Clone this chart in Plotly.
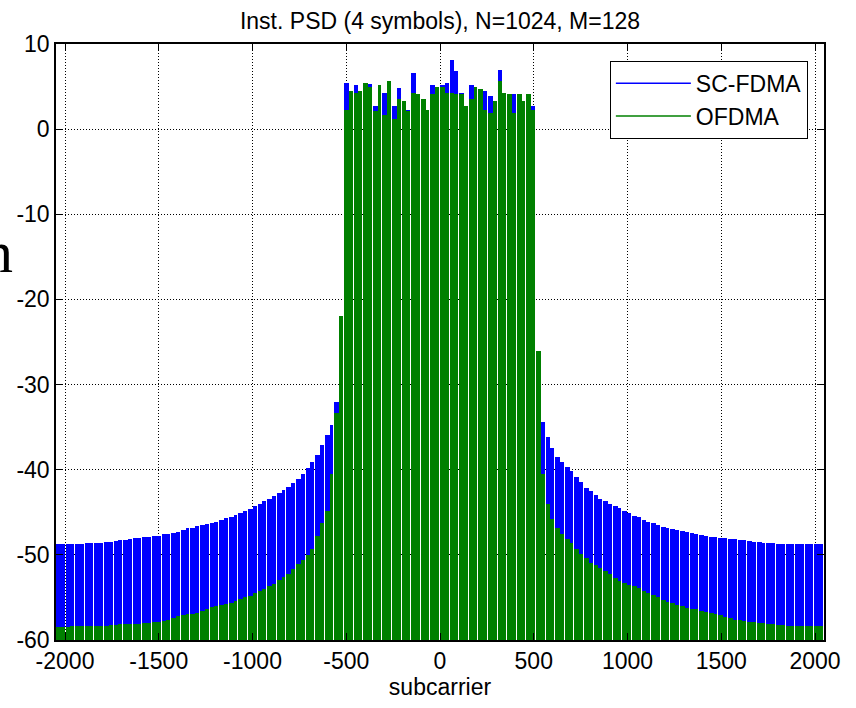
import plotly.graph_objects as go

# ---- data (dB), one value per 25.6-subcarrier bin ----
X_START = -2048
BIN = 25.6
Y_MIN, Y_MAX = -60, 10

sc_fdma_left = [-48.7, -48.7, -48.7, -48.7, -48.7, -48.7, -48.6, -48.6, -48.6, -48.6,
                -48.5, -48.5, -48.4, -48.3, -48.2, -48.1, -48.0, -48.0, -47.9, -47.9,
                -47.8, -47.8, -47.6, -47.5, -47.4, -47.3, -47.1, -46.9, -46.8, -46.6,
                -46.5, -46.4, -46.2, -46.1, -45.9, -45.7, -45.5, -45.3, -45.1, -44.9,
                -44.6, -44.3, -44.0, -43.7, -43.4, -43.1, -42.7, -42.4, -42.0, -41.6,
                -41.1, -40.5, -39.8, -39.1, -38.3, -37.1, -35.9, -34.8, -32.0, -28.5]
sc_fdma_center = [5.4, 1.9, 5.2, 1.7, 1.7, 5.3, 2.7, 2.3, 4.3, 3.1,
                  2.7, 4.8, 2.3, 2.3, 6.6, 4.1, 2.7, 1.6, 5.2, 4.7,
                  5.2, 5.4, 8.1, 6.8, 4.3, 0.6, 5.2, -0.4, 3.1, 4.5,
                  3.9, 2.3, 7.0, 3.5, 1.9, 4.1, 3.9, 0.6, 2.1, 2.7]
sc_fdma_right = [-31.0, -34.4, -36.2, -37.5, -38.5, -39.1, -39.7, -40.2, -40.8, -41.5,
                 -42.1, -42.5, -43.0, -43.4, -43.7, -44.0, -44.3, -44.5, -44.8, -45.1,
                 -45.4, -45.6, -45.9, -46.1, -46.3, -46.5, -46.7, -46.8, -47.0, -47.1,
                 -47.2, -47.3, -47.4, -47.5, -47.7, -47.8, -47.9, -47.9, -48.0, -48.0,
                 -48.1, -48.1, -48.2, -48.3, -48.4, -48.5, -48.5, -48.6, -48.6, -48.6,
                 -48.7, -48.7, -48.7, -48.7, -48.7, -48.7, -48.7, -48.7, -48.7, -48.7]

ofdma_left = [-58.5, -58.5, -58.5, -58.4, -58.4, -58.4, -58.4, -58.4, -58.3, -58.3,
              -58.3, -58.2, -58.2, -58.1, -58.1, -58.1, -58.1, -58.1, -58.0, -58.0,
              -57.9, -57.9, -57.8, -57.6, -57.4, -57.2, -57.1, -57.0, -56.9, -56.8,
              -56.6, -56.4, -56.1, -56.0, -55.9, -55.8, -55.6, -55.4, -55.2, -55.0,
              -54.8, -54.5, -54.3, -54.0, -53.7, -53.4, -53.0, -52.6, -52.2, -51.7,
              -51.1, -50.6, -50.0, -49.3, -47.8, -46.2, -44.8, -40.5, -33.3, -22.0]
ofdma_center = [2.3, 4.5, 4.3, 4.5, 5.4, 5.0, 2.1, 5.2, 1.7, 5.6,
                1.2, 3.5, 3.3, 2.1, 4.3, 4.1, 3.5, 2.3, 4.1, 5.0,
                5.0, 4.3, 4.3, 4.1, 4.1, 2.7, 3.5, 5.0, 4.7, 2.3,
                1.9, 3.3, 5.6, 4.3, 4.1, 1.9, 4.1, 3.3, 4.1, 2.3]
ofdma_right = [-26.0, -40.5, -44.0, -45.8, -46.8, -47.6, -48.1, -48.6, -49.3, -49.9,
               -50.4, -50.9, -51.2, -51.5, -51.9, -52.3, -52.7, -53.1, -53.3, -53.5,
               -53.7, -53.9, -54.2, -54.5, -54.7, -55.0, -55.3, -55.5, -55.7, -55.9,
               -56.0, -56.2, -56.3, -56.4, -56.6, -56.7, -56.8, -57.0, -57.1, -57.3,
               -57.4, -57.6, -57.7, -57.8, -57.9, -57.9, -58.0, -58.0, -58.1, -58.1,
               -58.2, -58.2, -58.3, -58.3, -58.3, -58.4, -58.4, -58.4, -58.4, -58.4]

x_ticks = [-2000, -1500, -1000, -500, 0, 500, 1000, 1500, 2000]
x_tick_labels = ["-2000", "-1500", "-1000", "-500", "0", "500", "1000", "1500", "2000"]
y_ticks = [-60, -50, -40, -30, -20, -10, 0, 10]
y_tick_labels = ["-60", "-50", "-40", "-30", "-20", "-10", "0", "10"]

sc_fdma = sc_fdma_left + sc_fdma_center + sc_fdma_right
ofdma = ofdma_left + ofdma_center + ofdma_right

BLUE = "#0000ff"
GREEN = "#008000"
FONT = "Liberation Sans, Arial, Helvetica, sans-serif"
FS = 23

# bins rendered as touching columns with a thin white null every second bin
GAP = 5.0
n = len(sc_fdma)
widths = [BIN if k % 2 == 0 else BIN - GAP for k in range(n)]
centers = [X_START + BIN * k + w / 2 for k, w in enumerate(widths)]

fig = go.Figure()
for vals, col in ((sc_fdma, BLUE), (ofdma, GREEN)):
    fig.add_trace(go.Bar(
        x=centers, y=[v - Y_MIN for v in vals], base=Y_MIN, width=widths,
        marker=dict(color=col, line=dict(width=0)), showlegend=False,
        hoverinfo="skip"))

# legend entries (lines, as in the original)
fig.add_trace(go.Scatter(x=[None], y=[None], mode="lines", name="SC-FDMA",
                         line=dict(color=BLUE, width=1.5)))
fig.add_trace(go.Scatter(x=[None], y=[None], mode="lines", name="OFDMA",
                         line=dict(color=GREEN, width=1.5)))

axis_common = dict(
    showline=True, linecolor="black", linewidth=1.5, mirror="ticks",
    ticks="inside", ticklen=7, tickwidth=1, tickcolor="black",
    showgrid=True, gridcolor="black", griddash="1px,2px", gridwidth=1,
    zeroline=False, tickfont=dict(family=FONT, size=FS, color="black"),
)

fig.update_layout(
    width=856, height=708,
    margin=dict(l=56, r=32, t=44, b=62),
    paper_bgcolor="white", plot_bgcolor="white",
    barmode="overlay", bargap=0,
    font=dict(family=FONT, size=FS, color="black"),
    title=dict(text="Inst. PSD (4 symbols), N=1024, M=128",
               x=0.5, xref="paper", xanchor="center",
               y=1 - 21 / 708, yref="container", yanchor="middle",
               font=dict(family=FONT, size=FS, color="black")),
    xaxis=dict(range=[X_START, -X_START], tickvals=x_ticks, ticktext=x_tick_labels,
               title=dict(text="subcarrier", standoff=6,
                          font=dict(family=FONT, size=FS, color="black")),
               **axis_common),
    yaxis=dict(range=[Y_MIN, Y_MAX], tickvals=y_ticks, ticktext=y_tick_labels,
               **axis_common),
    legend=dict(x=0.979, y=0.972, xanchor="right", yanchor="top",
                bgcolor="white", bordercolor="black", borderwidth=1,
                font=dict(family=FONT, size=FS, color="black"),
                itemwidth=75, tracegroupgap=0),
    showlegend=True,
)

fig.add_annotation(text="n", xref="paper", yref="paper",
                   x=(15 - 56) / 768, y=(646 - 254) / 602,
                   xanchor="right", yanchor="middle", showarrow=False,
                   font=dict(family="Liberation Serif, Times New Roman, serif",
                             size=60, color="black"))

fig.write_html("out.html")
